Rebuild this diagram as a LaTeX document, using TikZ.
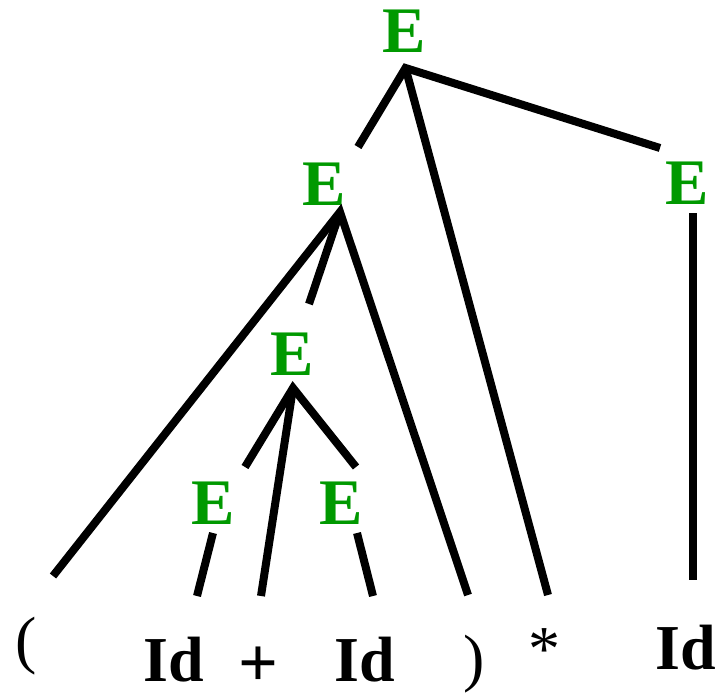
\documentclass[tikz,border=0pt]{standalone}
\usepackage{fontspec}
\setmainfont{Liberation Serif}
\definecolor{ntgreen}{RGB}{0,153,0}
\begin{document}
\begin{tikzpicture}[x=1pt,y=-1pt,
  nt/.style={inner sep=0pt,text=ntgreen,font=\fontsize{65}{65}\selectfont\bfseries},
  term/.style={inner sep=0pt,text=black,font=\fontsize{64}{64}\selectfont\bfseries},
  termr/.style={inner sep=0pt,text=black,font=\fontsize{64}{64}\selectfont},
  edge/.style={line width=8pt,line cap=butt,line join=miter}]
\useasboundingbox (0,0) rectangle (725,693);
% nonterminals
\node[nt] (e1) at (404,31) {E};
\node[nt] (e2) at (324,184) {E};
\node[nt] (e3) at (687,183) {E};
\node[nt] (e4) at (292,354) {E};
\node[nt] (e5) at (213,503) {E};
\node[nt] (e6) at (341,503) {E};
% terminals
\node[termr] (lp) at (26.5,646.5) {(};
\node[term] (id1) at (173.5,660) {Id};
\node[term,font=\fontsize{70}{70}\selectfont\bfseries] (plus) at (258,667) {+};
\node[term] (id2) at (365,660) {Id};
\node[termr] (rp) at (474,664.5) {)};
\node[termr] (star) at (544.5,649.5) {*};
\node[term] (id3) at (686,647.5) {Id};
% connector end points
\coordinate (a1) at (405.5,68);
\coordinate (a1l) at (358,147);
\coordinate (a1m) at (548,595);
\coordinate (a1r) at (660,148);
\coordinate (a2) at (340,212);
\coordinate (a2l) at (53,576);
\coordinate (a2m) at (309,304);
\coordinate (a2r) at (468,595);
\coordinate (a3t) at (693,213);
\coordinate (a3b) at (693,580);
\coordinate (a4) at (293,388);
\coordinate (a4l) at (245,467);
\coordinate (a4m) at (261,596);
\coordinate (a4r) at (356,467);
\coordinate (a5t) at (213,533);
\coordinate (a5b) at (197,596);
\coordinate (a6t) at (357,533);
\coordinate (a6b) at (373,596);
% connectors
\draw[edge] (a1l) -- (a1) -- (a1r);
\draw[edge] (a1) -- (a1m);
\draw[edge] (a2l) -- (a2) -- (a2r);
\draw[edge] (a2) -- (a2m);
\draw[edge] (a3t) -- (a3b);
\draw[edge] (a4l) -- (a4) -- (a4r);
\draw[edge] (a4) -- (a4m);
\draw[edge] (a5t) -- (a5b);
\draw[edge] (a6t) -- (a6b);
\end{tikzpicture}
\end{document}
